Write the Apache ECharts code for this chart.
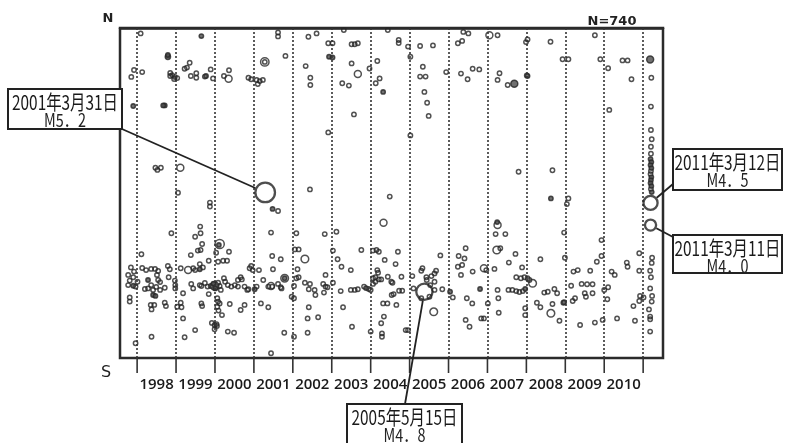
<!DOCTYPE html>
<html>
<head>
<meta charset="utf-8">
<script src="https://cdn.jsdelivr.net/npm/echarts@6/dist/echarts.min.js"></script>
<style>
  html, body { margin: 0; padding: 0; background: #fff; }
  #chart { width: 787px; height: 443px; }
</style>
</head>
<body>
<div id="chart"></div>
<script>
// 時空間分布図のデータ  [年, 南北位置(0=N,110=S), マグニチュード, 塗り(1)]
const yearTicks = [1998, 1999, 2000, 2001, 2002, 2003, 2004, 2005, 2006, 2007, 2008, 2009, 2010, 2011];
const yearLabels = [1998.5, 1999.5, 2000.5, 2001.5, 2002.5, 2003.5, 2004.5, 2005.5, 2006.5, 2007.5, 2008.5, 2009.5, 2010.5];

const q1997 = [
  [1997.85,16.3,2],[1997.92,14.0,2],[1997.90,26.0,2,1],[1997.84,79.8,2],[1997.92,81.2,2],[1997.77,82.3,2],
  [1997.90,83.1,2],[1997.81,84.2,2],[1997.77,85.7,2],[1997.90,85.9,2,1],[1997.96,86.2,2],[1997.81,89.8,2],
  [1997.81,91.2,2],[1997.96,105.1,2]
];
const q1998 = [
  [1998.09,1.8,2],[1998.13,14.7,2],[1998.79,9.6,2.4,1],[1998.79,9.0,2,1],[1998.85,15.0,2],[1998.90,15.7,2],
  [1998.97,16.3,2],[1998.95,17.0,2],[1998.85,16.0,2],[1998.71,25.8,2,1],[1998.67,25.8,2,1],[1998.47,46.6,2],
  [1998.52,47.3,2],[1998.61,46.6,2],[1998.88,68.4,2],[1998.11,75.4,2],[1998.13,80.0,2],[1998.23,80.7,2],
  [1998.36,80.3,2],[1998.46,80.3,2],[1998.54,81.0,2],[1998.79,79.3,2],[1998.84,80.4,2],[1998.01,84.6,2],
  [1998.28,84.0,2,1],[1998.51,82.3,2],[1998.54,84.0,2],[1998.59,84.7,2],[1998.81,83.1,2],[1998.97,84.2,2],
  [1998.98,85.7,2],[1998.98,86.8,2],[1998.20,87.0,2],[1998.28,86.8,2],[1998.36,85.7,2],[1998.41,87.3,2],
  [1998.49,86.3,2],[1998.59,87.3,2],[1998.41,89.0,2,1],[1998.47,89.3,2,1],[1998.71,86.6,2],[1998.35,92.3,2],
  [1998.44,92.3,2],[1998.37,93.8,2],[1998.71,91.6,2],[1998.74,92.7,2],[1998.37,102.9,2]
];
const q1999 = [
  [1999.03,16.7,2],[1999.35,11.6,2],[1999.22,13.6,2],[1999.28,13.2,2],[1999.38,16.0,2],[1999.52,15.1,2],
  [1999.52,16.6,2],[1999.74,16.2,2],[1999.77,16.0,2,1],[1999.89,13.8,2],[1999.95,16.8,2],[1999.65,2.7,2,1],
  [1999.11,46.6,3],[1999.05,54.9,2],[1999.87,58.2,2],[1999.87,59.5,2],[1999.62,66.2,2],[1999.63,68.4,2],
  [1999.49,69.6,2],[1999.67,72.0,2],[1999.56,74.2,2],[1999.63,74.0,2],[1999.38,75.7,2],[1999.84,77.6,2],
  [1999.61,78.7,2],[1999.12,80.1,2],[1999.31,80.7,3],[1999.44,80.1,2],[1999.49,80.7,2],[1999.61,80.4,2,1],
  [1999.69,79.8,2],[1999.18,88.4,2],[1999.39,85.3,2],[1999.44,86.8,2],[1999.61,85.7,2],[1999.65,86.0,2],
  [1999.74,85.0,2],[1999.81,86.2,2],[1999.89,86.0,2],[1999.99,86.0,3.4,1],[1999.96,85.2,2,1],[2000.01,86.8,2,1],
  [1999.84,88.7,2],[1999.03,92.9,2],[1999.14,93.1,2],[1999.12,91.6,2],[1999.65,91.8,2],[1999.67,92.7,2],
  [1999.18,96.8,2],[1999.92,98.3,2],[1999.99,99.0,2],[1999.99,100.4,2],[1999.49,100.7,2],[1999.22,103.1,2]
];
const q2000 = [
  [2000.23,16.0,2],[2000.36,14.1,2],[2000.35,16.9,3],[2000.86,16.6,2],[2000.93,17.1,2],[2000.12,72.0,3.6],
  [2000.10,72.3,2,1],[2000.03,74.9,2],[2000.36,74.6,2],[2000.08,77.9,2],[2000.21,77.6,2],[2000.31,77.6,2],
  [2000.08,84.9,2],[2000.12,86.0,2],[2000.15,87.3,2],[2000.23,83.4,2],[2000.26,84.6,2],[2000.33,85.7,2],
  [2000.42,86.2,2],[2000.51,85.7,2],[2000.59,86.2,2],[2000.59,84.0,2],[2000.66,83.1,2],[2000.69,83.8,2],
  [2000.76,86.2,2],[2000.83,87.3,2],[2000.86,87.1,2],[2000.89,80.1,2],[2000.93,79.3,2],[2000.97,80.7,2],
  [2000.06,90.1,2],[2000.08,91.2,2],[2000.12,91.8,2],[2000.38,92.0,2],[2000.76,92.3,2],[2000.66,94.0,2],
  [2000.06,92.9,2],[2000.09,94.2,2],[2000.18,95.7,2],[2000.04,98.7,2],[2000.05,99.3,2],[2000.33,101.2,2],
  [2000.49,101.6,2]
];
const q2001 = [
  [2001.02,87.1,2,1],[2001.07,86.2,2],[2001.28,11.3,3.4],[2001.28,11.3,2],[2001.07,17.3,2],[2001.15,17.7,2],
  [2001.23,17.3,2],[2001.10,18.7,2],[2001.62,1.5,2],[2001.62,2.8,2],[2001.81,9.3,2],[2001.48,60.3,2,1],
  [2001.62,61.0,2],[2001.44,68.2,2],[2001.47,76.0,2],[2001.69,77.1,2],[2001.13,80.7,2],[2001.49,80.4,2],
  [2001.24,84.0,2],[2001.37,86.2,2],[2001.44,86.0,3],[2001.47,86.2,2],[2001.62,85.3,2],[2001.69,86.4,2],
  [2001.71,86.8,2],[2001.79,83.4,3.2],[2001.79,83.4,2,1],[2001.97,89.6,2],[2001.18,91.8,2],[2001.37,93.1,2],
  [2001.78,101.6,2],[2001.44,108.4,2]
];
const q2002 = [
  [2002.40,2.9,2],[2002.61,1.8,2],[2002.33,12.7,2],[2002.45,16.6,2],[2002.45,19.0,2],[2002.91,5.1,2],
  [2002.93,9.6,2,1],[2002.91,34.8,2],[2002.44,53.8,2],[2002.09,68.4,2],[2002.82,68.7,2],[2002.05,73.8,2],
  [2002.15,73.8,2],[2002.31,77.0,3.2],[2002.12,80.4,2],[2002.84,82.3,2],[2002.03,86.0,2],[2002.09,83.4,2],
  [2002.15,83.1,2],[2002.31,84.9,2],[2002.44,85.3,2],[2002.41,87.1,2],[2002.56,87.3,2],[2002.58,89.0,2],
  [2002.78,85.3,2],[2002.84,86.2,2],[2002.89,86.4,2],[2002.80,88.2,2],[2002.03,90.1,2],[2002.41,93.1,2],
  [2002.38,96.8,2],[2002.65,96.4,2],[2002.03,102.9,2],[2002.38,101.6,2]
];
const q2003 = [
  [2003.02,5.1,2],[2003.02,9.8,2,1],[2003.27,18.4,2],[2003.44,19.2,2],[2003.51,11.8,2],[2003.57,28.8,2],
  [2003.67,15.3,3],[2003.31,0.7,2],[2003.51,5.4,2],[2003.59,5.4,2],[2003.67,5.1,2],[2003.97,13.5,2],
  [2003.12,67.9,2],[2003.03,74.2,2],[2003.15,77.1,2],[2003.76,74.0,2],[2003.25,79.6,2],[2003.49,80.7,2],
  [2003.03,84.9,2],[2003.23,87.7,2],[2003.49,87.3,2],[2003.59,87.3,2],[2003.67,87.1,2],[2003.83,86.2,2],
  [2003.88,86.7,2,1],[2003.95,87.0,2],[2003.29,93.1,2],[2003.52,99.6,2]
];
const q2004 = [
  [2004.17,11.0,2],[2004.23,16.8,2],[2004.13,18.4,2],[2004.32,21.3,2,1],[2004.44,0.7,2],[2004.72,4.0,2],
  [2004.72,5.0,2],[2004.96,6.2,2],[2004.49,56.2,2],[2004.33,64.9,3],[2004.00,87.3,2],[2004.06,74.2,2],
  [2004.15,74.0,2],[2004.21,74.6,2],[2004.36,77.3,2],[2004.17,80.7,2],[2004.19,81.6,2],[2004.44,82.9,2],
  [2004.12,83.1,2],[2004.21,83.8,2],[2004.27,83.8,2],[2004.06,83.4,2],[2004.53,84.6,2],[2004.06,85.3,2],
  [2004.12,84.6,2],[2004.54,89.0,2],[2004.32,91.8,2],[2004.43,91.8,2],[2004.34,96.2,2],[2004.27,98.4,2],
  [2004.00,101.2,2],[2004.29,101.8,2],[2004.29,102.9,2],[2004.70,74.6,2],[2004.64,78.7,2],[2004.79,82.9,2],
  [2004.56,84.9,2],[2004.59,88.7,2],[2004.73,87.6,2],[2004.81,87.6,2],[2004.66,92.3,2],[2004.90,100.7,2],
  [2004.96,100.7,2]
];
const q2005 = [
  [2005.27,6.0,2],[2005.60,5.8,2],[2005.02,9.6,2],[2005.34,12.9,2],[2005.27,16.2,2],[2005.41,16.2,2],
  [2005.38,21.3,2],[2005.45,24.9,2],[2005.49,29.3,2],[2005.02,35.8,2],[2005.94,14.7,2],[2005.07,82.7,2],
  [2005.10,86.8,2],[2005.30,80.9,2],[2005.33,80.1,2],[2005.43,83.1,2],[2005.44,84.0,2],[2005.56,82.7,2],
  [2005.64,81.8,2],[2005.68,80.9,2],[2005.64,84.6,2],[2005.53,85.7,2],[2005.30,90.1,2],[2005.51,89.6,2],
  [2005.64,87.3,2],[2005.84,87.1,2],[2005.79,75.8,2],[2005.62,94.6,3.2]
];
const q2006 = [
  [2006.24,5.1,2],[2006.35,4.3,2],[2006.38,1.3,2],[2006.51,1.8,2],[2006.32,15.2,2],[2006.49,17.1,2],
  [2006.62,13.6,2],[2006.79,13.8,2],[2006.04,87.9,2,1],[2006.11,89.8,2],[2006.26,76.0,2],[2006.44,73.4,2],
  [2006.41,76.8,2],[2006.24,79.6,2],[2006.35,79.0,2],[2006.32,82.3,2],[2006.62,81.2,2],[2006.47,90.1,2],
  [2006.61,91.8,2],[2006.81,87.0,2,1],[2006.91,80.1,3],[2006.97,80.7,2],[2006.44,97.3,2],[2006.54,99.6,2],
  [2006.84,96.8,2],[2006.91,96.8,2]
];
const q2007 = [
  [2007.05,2.4,3],[2007.26,2.4,2],[2007.31,15.1,2],[2007.26,17.3,2],[2007.52,19.0,2],[2007.69,18.6,3,1],
  [2007.99,4.7,2],[2007.80,47.9,2],[2007.01,91.8,2],[2007.26,65.7,3],[2007.25,64.7,2,1],[2007.21,68.7,2],
  [2007.46,68.7,2],[2007.24,74.0,3.2],[2007.33,73.4,2],[2007.18,80.3,2],[2007.72,75.3,2],[2007.55,78.2,2],
  [2007.26,87.3,2],[2007.28,90.1,2],[2007.29,94.9,2],[2007.54,87.3,2],[2007.64,87.3,2],[2007.74,87.7,2],
  [2007.82,88.0,2],[2007.91,87.7,2],[2007.97,87.0,2,1],[2007.74,83.1,2],[2007.86,83.4,2],[2007.95,83.1,2],
  [2007.89,79.8,2],[2007.97,93.4,2],[2007.97,95.7,2]
];
const q2008 = [
  [2008.01,15.8,2],[2008.03,3.8,2],[2008.62,4.6,2],[2008.93,10.4,2],[2008.67,47.4,2],[2008.03,16.0,2,1],
  [2008.08,84.0,2],[2008.16,85.1,3.2],[2008.63,56.8,2,1],[2008.97,68.2,2],[2008.99,76.6,2],[2008.36,77.1,2],
  [2008.03,83.4,2],[2008.46,88.2,2],[2008.55,87.9,2],[2008.72,87.0,2],[2008.79,88.4,2],[2008.97,91.4,2,1],
  [2008.95,91.6,2],[2008.27,91.6,2],[2008.36,93.1,2],[2008.67,92.0,2],[2008.63,95.1,3.2],[2008.85,97.6,2]
];
const q2009 = [
  [2009.08,10.4,2],[2009.76,2.4,2],[2009.90,10.4,2],[2009.04,58.7,2],[2009.08,56.8,2],[2009.93,70.7,2],
  [2009.81,77.9,2],[2009.93,76.0,2],[2009.21,81.2,2],[2009.32,80.7,2],[2009.64,80.9,2],[2009.15,85.9,2],
  [2009.42,85.3,2],[2009.56,85.4,2],[2009.70,85.4,2],[2009.50,88.4,2],[2009.53,89.6,2],[2009.70,88.4,2],
  [2009.25,90.1,2],[2009.19,91.0,2],[2009.38,99.0,2],[2009.76,98.2,2],[2009.96,97.3,2]
];
const q2010 = [
  [2010.10,13.4,2],[2010.47,10.8,2],[2010.60,10.8,2],[2010.70,17.1,2],[2010.13,27.3,2],[2010.00,87.3,2],
  [2010.10,86.4,2],[2010.19,81.2,2],[2010.27,82.3,2],[2010.58,78.2,2],[2010.60,79.6,2],[2010.90,75.1,2],
  [2010.90,80.9,2],[2010.92,89.3,2],[2010.08,90.4,2],[2010.33,96.8,2],[2010.79,97.6,2],[2010.75,92.7,2],
  [2010.90,91.0,2],[2011.01,89.8,2]
];
const q2011 = [
  [2011.18,10.5,3,1],[2011.21,16.6,2],[2011.20,26.2,2],[2011.20,34.0,2],[2011.22,37.1,2],[2011.20,39.6,2],
  [2011.20,41.9,2],[2011.19,43.7,2,1],[2011.21,44.7,2,1],[2011.19,45.7,2,1],[2011.21,46.7,2,1],[2011.20,47.7,2],
  [2011.19,48.7,2],[2011.21,49.7,2,1],[2011.20,50.7,2,1],[2011.19,51.7,2,1],[2011.21,52.7,2,1],[2011.20,53.7,2],
  [2011.22,54.7,2,1],[2011.23,76.6,2],[2011.22,78.3,2],[2011.18,80.9,2],[2011.20,83.1,2],[2011.18,86.8,2],
  [2011.23,89.3,2],[2011.22,91.2,2],[2011.15,93.8,2],[2011.18,96.2,2],[2011.18,97.1,2],[2011.18,101.2,2]
];

// 注記付きの地震
const events = [
  { date: '2001年3月31日', mag: 5.2, label: 'M5．2', x: 2001.29, y: 54.8 },
  { date: '2005年5月15日', mag: 4.8, label: 'M4．8', x: 2005.38, y: 87.9 },
  { date: '2011年3月11日', mag: 4.0, label: 'M4．0', x: 2011.19, y: 65.7 },
  { date: '2011年3月12日', mag: 4.5, label: 'M4．5', x: 2011.19, y: 58.3 }
];

const quakes = [].concat(q1997, q1998, q1999, q2000, q2001, q2002, q2003, q2004,
  q2005, q2006, q2007, q2008, q2009, q2010, q2011);

function magSize(m) {
  return 1.7 * Math.exp(0.47 * m);
}

const myChart = echarts.init(document.getElementById('chart'));

const option = {
  animation: false,
  grid: {
    left: 120, right: 124, top: 28, bottom: 85,
    show: true,
    borderColor: '#2b2b2b',
    borderWidth: 2.5,
    backgroundColor: 'transparent'
  },
  xAxis: {
    type: 'value',
    min: 1997.56,
    max: 2011.51,
    axisLine: { show: true, lineStyle: { color: '#2b2b2b', width: 2.5 } },
    splitLine: { show: false },
    axisTick: { show: false },
    axisLabel: {
      customValues: yearLabels,
      formatter: v => String(Math.floor(v)),
      margin: 19,
      fontSize: 15,
      fontWeight: 600,
      color: '#1a1a1a',
      fontFamily: 'Open Sans'
    }
  },
  yAxis: {
    type: 'value',
    min: 0,
    max: 110,
    inverse: true,
    show: false
  },
  series: [
    {
      name: 'quakes',
      type: 'scatter',
      data: quakes.filter(p => !p[3]),
      symbolSize: v => magSize(v[2]),
      itemStyle: { color: 'rgba(0,0,0,0)', borderColor: '#262626', borderWidth: 1.5 },
      markLine: {
        silent: true,
        symbol: ['none', 'none'],
        label: { show: false },
        lineStyle: { type: [2, 2], color: '#333', width: 1.6 },
        data: yearTicks.map(v => ({ xAxis: v }))
      }
    },
    {
      name: 'dense',
      type: 'scatter',
      data: quakes.filter(p => p[3]),
      symbolSize: v => magSize(v[2]),
      itemStyle: { color: '#4d4d4d', borderColor: '#262626', borderWidth: 1.5 }
    },
    {
      name: 'events',
      type: 'scatter',
      data: events.map(e => [e.x, e.y, e.mag]),
      symbolSize: v => magSize(v[2]),
      itemStyle: { color: 'rgba(255,255,255,0)', borderColor: '#222', borderWidth: 2.3 },
      z: 5
    }
  ]
};
myChart.setOption(option);

// 年の区切り目盛（枠の下に外向き、軸の縮尺から位置を取る）
const graphics = [];
yearTicks.forEach(v => {
  const p = myChart.convertToPixel({ gridIndex: 0 }, [v, 110]);
  graphics.push({
    type: 'line', z: 3,
    shape: { x1: p[0], y1: p[1], x2: p[0], y2: p[1] + 15 },
    style: { stroke: '#333', lineWidth: 1.6 }
  });
});

// 注記ボックスの配置
const callouts = [
  { ev: 0, x: 8, y: 89, w: 114, h: 40, ax: 122, ay: 129 },
  { ev: 1, x: 347, y: 404, w: 115, h: 40, ax: 405, ay: 404 },
  { ev: 2, x: 673, y: 235, w: 109, h: 38, ax: 673, ay: 237 },
  { ev: 3, x: 673, y: 149, w: 109, h: 41, ax: 673, ay: 184 }
];

const cjk = '"Noto Sans CJK JP", sans-serif';
const centered = { align: 'center', verticalAlign: 'middle', textAlign: 'center', textVerticalAlign: 'middle' };
graphics.push(
  { type: 'text', x: 108, y: 19, style: Object.assign({ text: 'N', font: 'bold 13px "DejaVu Sans"', fill: '#222' }, centered) },
  { type: 'text', x: 106, y: 373, style: Object.assign({ text: 'S', font: '16px "DejaVu Sans"', fill: '#222' }, centered) },
  { type: 'text', x: 612, y: 22, style: Object.assign({ text: 'N=740', font: 'bold 13px "DejaVu Sans"', fill: '#222' }, centered) }
);

callouts.forEach(b => {
  const e = events[b.ev];
  const p = myChart.convertToPixel({ gridIndex: 0 }, [e.x, e.y]);
  const r = magSize(e.mag) / 2 + 1;
  const dx = p[0] - b.ax, dy = p[1] - b.ay;
  const d = Math.hypot(dx, dy);
  graphics.push({
    type: 'line', z: 10,
    shape: { x1: b.ax, y1: b.ay, x2: p[0] - dx / d * r, y2: p[1] - dy / d * r },
    style: { stroke: '#222', lineWidth: 1.8 }
  });
  graphics.push({
    type: 'rect', z: 11,
    shape: { x: b.x, y: b.y, width: b.w, height: b.h },
    style: { fill: '#fff', stroke: '#222', lineWidth: 2 }
  });
  graphics.push({
    type: 'text', z: 12, x: b.x + b.w / 2, y: b.y + 13, scaleX: 0.77,
    style: Object.assign({ text: e.date, font: '20px ' + cjk, fill: '#1a1a1a' }, centered)
  });
  graphics.push({
    type: 'text', z: 12, x: b.x + b.w / 2, y: b.y + 31, scaleX: 0.8,
    style: Object.assign({ text: e.label, font: '18px ' + cjk, fill: '#222' }, centered)
  });
});

myChart.setOption({ graphic: graphics });
</script>
</body>
</html>
